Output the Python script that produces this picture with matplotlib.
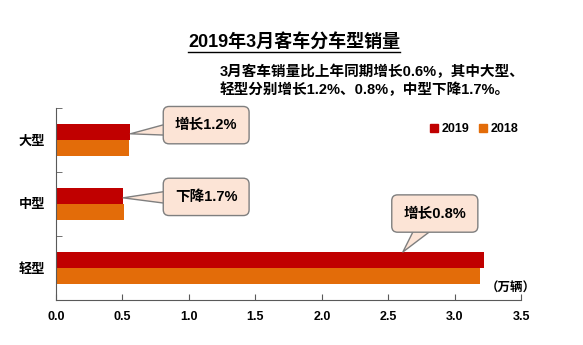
import matplotlib
matplotlib.use("Agg")
import matplotlib.pyplot as plt
from matplotlib.patches import Patch
from matplotlib.lines import Line2D

# ── Data ──────────────────────────────────────────────────────────────────────
categories = ["大型", "中型", "轻型"]
sales_2019 = [0.56, 0.505, 3.22]
sales_2018 = [0.553, 0.512, 3.19]
notes      = ["增长1.2%", "下降1.7%", "增长0.8%"]
xticks     = [0.0, 0.5, 1.0, 1.5, 2.0, 2.5, 3.0, 3.5]

RED, ORANGE = "#C00000", "#E36C09"
BOX_FC, BOX_EC = "#FCE4D6", "#7F7F7F"

plt.rcParams["font.family"] = ["Liberation Sans", "Noto Sans CJK SC", "DejaVu Sans"]
plt.rcParams["font.weight"] = "bold"

fig = plt.figure(figsize=(5.83, 3.45), dpi=100)
ax = fig.add_axes([0.096, 0.1304, 0.798, 0.557])

ypos = list(range(len(categories)))
h = 0.25
ax.barh([y - h / 2 for y in ypos], sales_2019, height=h, color=RED, label="2019")
ax.barh([y + h / 2 for y in ypos], sales_2018, height=h, color=ORANGE, label="2018")

ax.set_ylim(2.5, -0.5)
ax.set_xlim(0, 3.5)
ax.set_yticks(ypos)
ax.set_yticklabels(categories, fontsize=9.5, fontweight="bold")
ax.set_yticks([-0.5, 0.5, 1.5, 2.5], minor=True)
ax.tick_params(axis="y", which="major", length=0, pad=8)
ax.tick_params(axis="y", which="minor", direction="in", length=4, color="#595959")
ax.set_xticks(xticks)
ax.set_xticklabels([f"{v:.1f}" for v in xticks], fontsize=9, fontweight="bold")
ax.tick_params(axis="x", direction="in", length=4, color="#595959", pad=8)
for s in ["top", "right"]:
    ax.spines[s].set_visible(False)
for s in ["left", "bottom"]:
    ax.spines[s].set_color("#595959")

# ── Callouts ──────────────────────────────────────────────────────────────────
targets = [(sales_2019[0], ypos[0] - h / 2 + 0.03), (sales_2019[1], ypos[1] - h / 2 + 0.03),
           (2.61, ypos[2] - h)]
offsets = [(1.13, -0.23), (1.13, 0.89), (2.85, 1.15)]
for note, (tx, ty), (bx, by) in zip(notes, targets, offsets):
    ax.annotate(note, xy=(tx, ty), xytext=(bx, by), ha="center", va="center",
                fontsize=10.5, fontweight="bold", annotation_clip=False,
                bbox=dict(boxstyle="round,pad=0.8,rounding_size=0.4",
                          fc=BOX_FC, ec=BOX_EC, lw=1),
                arrowprops=dict(arrowstyle="wedge,tail_width=1.6,shrink_factor=0.5",
                                fc=BOX_FC, ec=BOX_EC, lw=1,
                                patchA=None, shrinkA=0, shrinkB=0))

ax.legend(handles=[Patch(color=RED, label="2019"), Patch(color=ORANGE, label="2018")],
          loc="center left", bbox_to_anchor=(0.78, 0.89), ncol=2, frameon=False,
          handlelength=0.6, handleheight=0.6, handletextpad=0.3, columnspacing=0.8,
          prop=dict(size=9, weight="bold"))

ax.text(3.42, 2.33, "（万辆）", ha="center", va="center", fontsize=9, fontweight="bold")

# ── Titles ────────────────────────────────────────────────────────────────────
title = fig.text(0.505, 0.878, "2019年3月客车分车型销量", ha="center", va="center",
                 fontsize=13, fontweight="bold")
fig.text(0.377, 0.765, "3月客车销量比上年同期增长0.6%，其中大型、\n轻型分别增长1.2%、0.8%，中型下降1.7%。",
         ha="left", va="center", fontsize=10.5, fontweight="bold", linespacing=1.3)

fig.canvas.draw()
bb = title.get_window_extent().transformed(fig.transFigure.inverted())
fig.add_artist(Line2D([bb.x0, bb.x1], [bb.y0 - 0.004, bb.y0 - 0.004],
                      color="black", lw=1, transform=fig.transFigure))

plt.savefig("out.png", dpi=100)
